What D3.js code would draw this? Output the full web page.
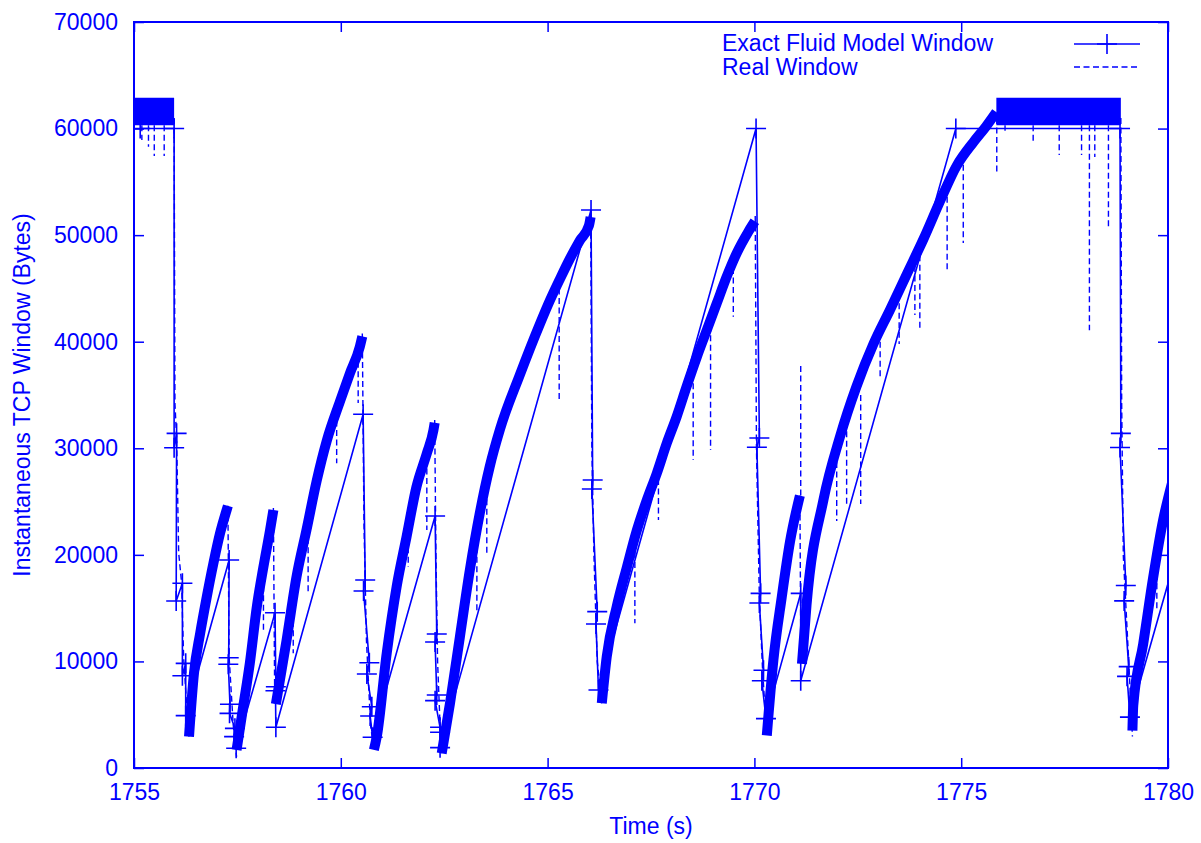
<!DOCTYPE html>
<html>
<head>
<meta charset="utf-8">
<script src="https://cdn.jsdelivr.net/npm/d3@7"></script>
<style>
  body { margin: 0; background: #fff; }
  svg text { font-family: "Liberation Sans", Arial, sans-serif; font-size: 23px; fill: #0000ff; }
</style>
</head>
<body>
<script>
// axis ticks
var xTicks = [1755, 1760, 1765, 1770, 1775, 1780];
var yTicks = [0, 10000, 20000, 30000, 40000, 50000, 60000, 70000];

// exact fluid model window (time, bytes)
var fluidT = [1755.15, 1755.97, 1755.97, 1756.03, 1756.02, 1756.17, 1756.17, 1756.25, 1756.25,
              1757.30, 1757.29, 1757.28, 1757.32, 1757.31, 1757.44, 1757.42, 1757.47,
              1758.41, 1758.43, 1758.42, 1758.43,
              1760.54, 1760.59, 1760.55, 1760.69, 1760.63, 1760.75, 1760.71, 1760.77,
              1762.28, 1762.32, 1762.28, 1762.32, 1762.28, 1762.40, 1762.40, 1762.40,
              1766.05, 1766.09, 1766.07, 1766.20, 1766.17, 1766.23,
              1770.04, 1770.12, 1770.06, 1770.15, 1770.12, 1770.22, 1770.18, 1770.28,
              1771.12, 1771.12,
              1774.87, 1778.84, 1778.86, 1778.84, 1778.98, 1778.94, 1779.05, 1779.01, 1779.08,
              1780.30];
var fluidW = [60000, 60000, 30050, 31400, 15670, 17330, 8660, 9820, 4910,
              19520, 10350, 9730, 5980, 5130, 3720, 2940, 1850,
              14570, 7630, 7250, 3820,
              33190, 17640, 16610, 9880, 8820, 5750, 4880, 2880,
              23640, 12570, 11820, 6850, 6320, 3820, 3350, 1910,
              52360, 27020, 26180, 14670, 13510, 7320,
              60000, 30960, 30100, 16390, 15480, 9170, 8180, 4630,
              16390, 8180,
              60000, 60000, 31400, 30080, 17120, 15680, 9510, 8600, 4770,
              21400];

// real window: flat parts at the maximum window [time, low, high]
var plateauA = [[1755.0, 60300, 62900], [1755.97, 60300, 62900]];
var plateauB = [[1775.85, 60300, 62900], [1778.86, 60300, 62900]];

// real window: growth phases [time, bytes]
var rise1 = [[1756.33, 2940], [1756.45, 8880], [1756.60, 12640], [1756.76, 16070], [1756.92, 19210],
             [1757.08, 22020], [1757.24, 24210], [1757.27, 24600]];
var rise2 = [[1757.48, 1690], [1757.64, 5750], [1757.80, 9820], [1757.97, 15130], [1758.13, 18890],
             [1758.29, 22330], [1758.37, 24210]];
var rise3 = [[1758.43, 6000], [1758.69, 12010], [1758.93, 17950], [1759.17, 22330], [1759.42, 27000],
             [1759.66, 30700], [1759.98, 34400], [1760.22, 37030], [1760.46, 39530], [1760.52, 40500]];
var rise4 = [[1760.80, 1700], [1760.87, 2940], [1761.11, 10760], [1761.35, 17010], [1761.59, 21700],
             [1761.83, 26390], [1762.08, 29520], [1762.24, 31710], [1762.27, 32400]];
var rise5 = [[1762.44, 1380], [1762.64, 6070], [1762.88, 12320], [1763.12, 18580], [1763.36, 23900],
             [1763.60, 28270], [1763.85, 31800], [1764.33, 36900], [1764.82, 41720], [1765.06, 43910],
             [1765.30, 45900], [1765.54, 47800], [1765.78, 49500], [1766.00, 50900], [1766.04, 51700]];
var rise6 = [[1766.31, 6070], [1766.43, 10440], [1766.67, 15130], [1766.92, 18890], [1767.16, 22330],
             [1767.40, 25150], [1767.64, 27650], [1767.88, 30460], [1768.12, 32960], [1768.36, 35780],
             [1768.61, 38590], [1768.85, 41100], [1769.09, 43600], [1769.33, 46100], [1769.57, 48290],
             [1769.85, 50300], [1770.01, 51300]];
var rise7 = [[1770.30, 3050], [1770.46, 10150], [1770.66, 16000], [1770.86, 21210], [1771.10, 25560]];
var rise8 = [[1771.15, 9760], [1771.26, 15290], [1771.67, 25170], [1772.07, 31090], [1772.47, 35820],
             [1772.88, 39800], [1773.28, 43000], [1773.68, 46300], [1774.09, 49650], [1774.49, 53200],
             [1774.89, 56500], [1775.29, 58700], [1775.60, 60200], [1775.85, 61550]];
var rise9 = [[1779.14, 3500], [1779.16, 5860], [1779.40, 11640], [1779.64, 17840], [1779.88, 23220],
             [1780.10, 26800]];

// real window: loss events (fast decrease)
var drop1 = [[1755.97, 61000], [1755.99, 34200], [1756.03, 31000], [1756.08, 20200], [1756.15, 17400],
             [1756.20, 10400], [1756.30, 4200], [1756.33, 2940]];
var drop2 = [[1757.27, 24600], [1757.30, 10400], [1757.40, 4000], [1757.48, 1060]];
var drop3 = [[1758.37, 24400], [1758.40, 7600], [1758.43, 6000]];
var drop4 = [[1760.52, 40780], [1760.56, 23000], [1760.62, 12000], [1760.72, 4000], [1760.80, 1700]];
var drop5 = [[1762.27, 32650], [1762.30, 20000], [1762.34, 10000], [1762.40, 4000], [1762.44, 1380]];
var drop6 = [[1766.04, 52000], [1766.07, 30000], [1766.12, 20000], [1766.20, 10000], [1766.31, 6070]];
var drop7 = [[1770.02, 51800], [1770.05, 30000], [1770.12, 16000], [1770.20, 9000], [1770.30, 3050]];
var drop8 = [[1771.10, 25560], [1771.12, 12000], [1771.15, 9760]];
var drop9 = [[1778.86, 61000], [1778.88, 34200], [1778.92, 19900], [1779.04, 10800], [1779.14, 2960]];

// real window: short excursions away from the trend [time, from, to]
var spikes = [[1755.19, 60300, 58930], [1755.35, 60300, 58300], [1755.49, 60300, 57420], [1755.73, 60300, 57420],
              [1758.13, 18000, 12640], [1758.85, 16500, 10760], [1759.21, 22500, 16390], [1759.90, 33500, 28590],
              [1760.42, 39000, 34250], [1761.63, 22500, 18890], [1762.08, 29000, 22330], [1763.29, 22500, 14540],
              [1763.53, 27000, 20000], [1765.28, 45000, 34530], [1767.11, 22000, 13580], [1767.68, 28000, 23270],
              [1768.52, 37000, 28900], [1768.94, 41500, 29840], [1769.49, 47800, 42350], [1771.12, 25560, 37800],
              [1771.99, 30500, 23180], [1772.23, 32500, 24770], [1772.57, 35000, 24770], [1773.04, 40000, 36600],
              [1773.50, 44500, 39790], [1773.88, 48000, 42500], [1774.00, 49000, 41000], [1774.66, 54500, 46480],
              [1775.05, 57500, 49260], [1775.86, 61000, 55970], [1776.06, 60300, 59800], [1776.74, 60300, 58560],
              [1777.37, 60300, 57530], [1777.91, 60300, 57530], [1778.10, 60300, 41080], [1778.23, 60300, 57330],
              [1778.56, 60300, 50580], [1779.73, 20000, 14960]];

var rises = [rise1, rise2, rise3, rise4, rise5, rise6, rise7, rise8, rise9];
var drops = [drop1, drop2, drop3, drop4, drop5, drop6, drop7, drop8, drop9];
var plateaus = [plateauA, plateauB];

var blue = "#0000ff";
var totalWidth = 1201, totalHeight = 843;
var margin = {"left": 134, "right": 33, "top": 22, "bottom": 75};

var xScale = d3.scaleLinear()
               .domain([1755, 1780])
               .range([margin.left, totalWidth - margin.right]);
var yScale = d3.scaleLinear()
               .domain([0, 70000])
               .range([totalHeight - margin.bottom, margin.top]);

var svg = d3.select("body")
            .append("svg")
            .attr("width", totalWidth)
            .attr("height", totalHeight);

svg.append("defs").append("clipPath")
   .attr("id", "plotClip")
   .append("rect")
   .attr("x", xScale(1755)).attr("y", yScale(70000))
   .attr("width", xScale(1780) - xScale(1755))
   .attr("height", yScale(0) - yScale(70000));

var plot = svg.append("g").attr("clip-path", "url(#plotClip)");

// real window
var line = d3.line()
             .x(function(d) { return xScale(d[0]); })
             .y(function(d) { return yScale(d[1]); });
var smooth = d3.line()
               .curve(d3.curveMonotoneX)
               .x(function(d) { return xScale(d[0]); })
               .y(function(d) { return yScale(d[1]); });
var band = d3.area()
             .x(function(d) { return xScale(d[0]); })
             .y0(function(d) { return yScale(d[1]); })
             .y1(function(d) { return yScale(d[2]); });

plot.selectAll(".plateau")
    .data(plateaus)
    .enter().append("path")
    .attr("class", "plateau")
    .attr("d", band)
    .attr("fill", blue);

plot.selectAll(".rise")
    .data(rises)
    .enter().append("path")
    .attr("class", "rise")
    .attr("d", smooth)
    .attr("fill", "none")
    .attr("stroke", blue)
    .attr("stroke-width", 10)
    .attr("stroke-linejoin", "round");

plot.selectAll(".drop")
    .data(drops)
    .enter().append("path")
    .attr("class", "drop")
    .attr("d", line)
    .attr("fill", "none")
    .attr("stroke", blue)
    .attr("stroke-width", 1.4)
    .attr("stroke-dasharray", "6,3.5");

plot.selectAll(".spike")
    .data(spikes)
    .enter().append("line")
    .attr("class", "spike")
    .attr("x1", function(d) { return xScale(d[0]); })
    .attr("x2", function(d) { return xScale(d[0]); })
    .attr("y1", function(d) { return yScale(d[1]); })
    .attr("y2", function(d) { return yScale(d[2]); })
    .attr("stroke", blue)
    .attr("stroke-width", 1.4)
    .attr("stroke-dasharray", "6,3.5");

// fluid model
var fluid = fluidT.map(function(t, i) { return [t, fluidW[i]]; });
var plusPath = "M-10,0H10M0,-10V10";

plot.append("path")
    .datum(fluid)
    .attr("d", line)
    .attr("fill", "none")
    .attr("stroke", blue)
    .attr("stroke-width", 1.6);

plot.selectAll(".plus")
    .data(fluid)
    .enter().append("path")
    .attr("class", "plus")
    .attr("d", plusPath)
    .attr("transform", function(d) { return "translate(" + xScale(d[0]) + "," + yScale(d[1]) + ")"; })
    .attr("stroke", blue)
    .attr("stroke-width", 1.6);

// axes with mirrored inward ticks
function styleAxis(g) {
  g.select(".domain").remove();
  g.selectAll(".tick line").attr("stroke", blue).attr("stroke-width", 1.5);
  g.selectAll(".tick text").attr("fill", blue)
   .style("font-family", "'Liberation Sans', Arial, sans-serif").style("font-size", "23px");
}

svg.append("g")
   .attr("transform", "translate(0," + yScale(0) + ")")
   .call(d3.axisBottom(xScale).tickValues(xTicks).tickSizeInner(-10).tickSizeOuter(0)
           .tickPadding(16).tickFormat(d3.format("d")))
   .call(styleAxis);
svg.append("g")
   .attr("transform", "translate(0," + yScale(70000) + ")")
   .call(d3.axisTop(xScale).tickValues(xTicks).tickSizeInner(-10).tickSizeOuter(0).tickFormat(""))
   .call(styleAxis);
svg.append("g")
   .attr("transform", "translate(" + xScale(1755) + ",0)")
   .call(d3.axisLeft(yScale).tickValues(yTicks).tickSizeInner(-10).tickSizeOuter(0)
           .tickPadding(16).tickFormat(d3.format("d")))
   .call(styleAxis);
svg.append("g")
   .attr("transform", "translate(" + xScale(1780) + ",0)")
   .call(d3.axisRight(yScale).tickValues(yTicks).tickSizeInner(-10).tickSizeOuter(0).tickFormat(""))
   .call(styleAxis);

// frame
svg.append("rect")
   .attr("x", xScale(1755)).attr("y", yScale(70000))
   .attr("width", xScale(1780) - xScale(1755))
   .attr("height", yScale(0) - yScale(70000))
   .attr("fill", "none")
   .attr("stroke", blue)
   .attr("stroke-width", 2);

// axis labels
svg.append("text")
   .attr("x", (xScale(1755) + xScale(1780)) / 2)
   .attr("y", 834)
   .attr("text-anchor", "middle")
   .text("Time (s)");

svg.append("text")
   .attr("transform", "translate(30," + (yScale(0) + yScale(70000)) / 2 + ") rotate(-90)")
   .attr("text-anchor", "middle")
   .text("Instantaneous TCP Window (Bytes)");

// legend
var legend = svg.append("g");
legend.append("text").attr("x", 722).attr("y", 51).text("Exact Fluid Model Window");
legend.append("text").attr("x", 722).attr("y", 75).text("Real Window");
legend.append("line")
      .attr("x1", 1074).attr("x2", 1140).attr("y1", 44).attr("y2", 44)
      .attr("stroke", blue).attr("stroke-width", 1.6);
legend.append("path")
      .attr("d", plusPath)
      .attr("transform", "translate(1107,44)")
      .attr("stroke", blue).attr("stroke-width", 1.6);
legend.append("line")
      .attr("x1", 1074).attr("x2", 1140).attr("y1", 67).attr("y2", 67)
      .attr("stroke", blue).attr("stroke-width", 1.4)
      .attr("stroke-dasharray", "6,3.5");
</script>
</body>
</html>
